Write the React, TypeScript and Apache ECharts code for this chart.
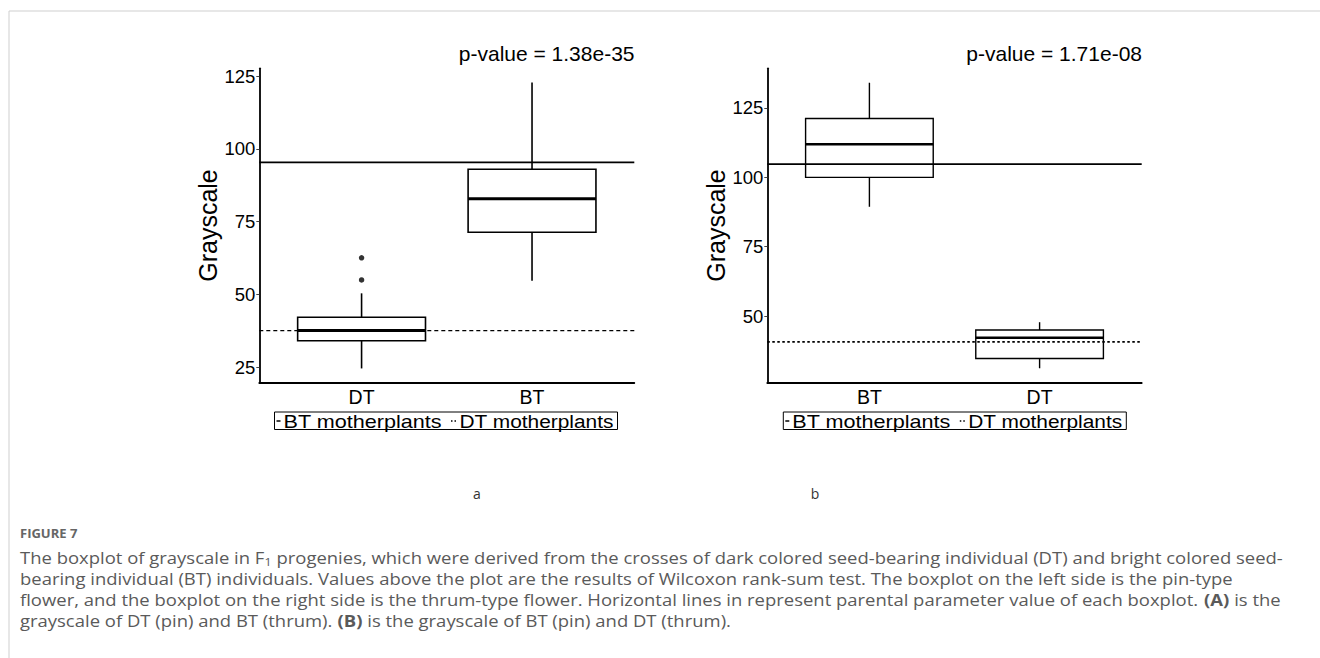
import React, { useEffect, useRef } from 'react';
import * as echarts from 'echarts';

// ---------- data ----------
const categoriesA = ['DT', 'BT'];
// [lower whisker, Q1, median, Q3, upper whisker]
const boxStatsA = [
  [24.6, 34.1, 37.6, 42.2, 50.4],
  [54.7, 71.4, 82.9, 93.0, 122.8],
];
const outlierCatsA = ['DT', 'DT'];
const outlierValsA = [62.6, 55.0];
const btMotherA = 95.4;
const dtMotherA = 37.6;
const pValueA = 'p-value = 1.38e-35';
const yTicksA = [25, 50, 75, 100, 125];
const yRangeA = [19.7, 127.7];

const categoriesB = ['BT', 'DT'];
const boxStatsB = [
  [89.4, 100.0, 111.9, 121.2, 134.1],
  [31.2, 34.7, 42.2, 45.0, 47.8],
];
const btMotherB = 104.8;
const dtMotherB = 40.7;
const pValueB = 'p-value = 1.71e-08';
const yTicksB = [50, 75, 100, 125];
const yRangeB = [26.0, 139.3];

const legendLabels = ['BT motherplants', 'DT motherplants'];
const panelLabels = ['a', 'b'];
const yName = 'Grayscale';

const captionHead = 'FIGURE 7';
const captionLines = [
  'The boxplot of grayscale in F{sub|1} progenies, which were derived from the crosses of dark colored seed-bearing individual (DT) and bright colored seed-',
  'bearing individual (BT) individuals. Values above the plot are the results of Wilcoxon rank-sum test. The boxplot on the left side is the pin-type',
  'flower, and the boxplot on the right side is the thrum-type flower. Horizontal lines in represent parental parameter value of each boxplot. {b|(A)} is the',
  'grayscale of DT (pin) and BT (thrum). {b|(B)} is the grayscale of BT (pin) and DT (thrum).',
];

// ---------- helpers ----------
const FONT = "'Liberation Sans', Arial, Helvetica, sans-serif";
const CAP_FONT = "'Open Sans', 'Noto Sans', sans-serif";

const toBoxData = (stats: number[][]) => stats.map((s, i) => [i + 1, ...s]);

const boxRenderer = (lw: number, medW: number) => (params: any, api: any) => {
  const x = api.value(0);
  const low = api.value(1), q1 = api.value(2), med = api.value(3), q3 = api.value(4), high = api.value(5);
  const half = 0.375;
  const tl = api.coord([x - half, q3]);
  const br = api.coord([x + half, q1]);
  const mL = api.coord([x - half, med]);
  const mR = api.coord([x + half, med]);
  const pH = api.coord([x, high]);
  const pT = api.coord([x, q3]);
  const pB = api.coord([x, q1]);
  const pL = api.coord([x, low]);
  const st = { stroke: '#000', lineWidth: lw, fill: 'none' };
  return {
    type: 'group',
    children: [
      { type: 'line', shape: { x1: pH[0], y1: pH[1], x2: pT[0], y2: pT[1] }, style: st },
      { type: 'line', shape: { x1: pB[0], y1: pB[1], x2: pL[0], y2: pL[1] }, style: st },
      {
        type: 'rect',
        shape: { x: tl[0], y: tl[1], width: br[0] - tl[0], height: br[1] - tl[1] },
        style: { stroke: '#000', lineWidth: lw, fill: '#fff' },
      },
      { type: 'line', shape: { x1: mL[0], y1: mL[1], x2: mR[0], y2: mR[1] }, style: { stroke: '#000', lineWidth: medW } },
    ],
  };
};

const legendGroup = (x0: number) => ({
  type: 'group',
  x: x0,
  y: 412,
  children: [
    { type: 'rect', shape: { x: 0, y: 0, width: 343, height: 17.5 }, style: { fill: '#fff', stroke: '#000', lineWidth: 1 } },
    { type: 'line', shape: { x1: 2, y1: 9, x2: 6, y2: 9 }, style: { stroke: '#000', lineWidth: 1.5 } },
    {
      type: 'text', x: 9, y: 9.5, scaleX: 1.2,
      style: { text: legendLabels[0], font: `18px ${FONT}`, fill: '#000', verticalAlign: 'middle', align: 'left' },
    },
    { type: 'line', shape: { x1: 176.5, y1: 9, x2: 182, y2: 9 }, style: { stroke: '#000', lineWidth: 1.5, lineDash: [1.5, 2] } },
    {
      type: 'text', x: 185, y: 9.5, scaleX: 1.16,
      style: { text: legendLabels[1], font: `18px ${FONT}`, fill: '#000', verticalAlign: 'middle', align: 'left' },
    },
  ],
});

export default function App() {
  const ref = useRef<HTMLDivElement>(null);
  useEffect(() => {
    if (!ref.current) return;
    const chart = echarts.init(ref.current, undefined, { renderer: 'svg' });

    const yAxisCommon = (ticks: number[], range: number[], gap: number) => ({
      type: 'value',
      min: range[0],
      max: range[1],
      name: yName,
      nameLocation: 'middle',
      nameGap: gap,
      nameTextStyle: { fontSize: 25, color: '#000', fontFamily: FONT },
      axisLine: { show: true, lineStyle: { color: '#000', width: 1.8 } },
      axisTick: { show: true, length: 3, customValues: ticks, lineStyle: { color: '#444', width: 1 } },
      axisLabel: { customValues: ticks, fontSize: 18.5, color: '#000', fontFamily: FONT, margin: 4 },
      splitLine: { show: false },
    });
    const xAxisCommon = (cats: string[], gridIndex: number) => ({
      type: 'value',
      gridIndex,
      min: 0.4,
      max: 2.6,
      axisLine: { show: true, onZero: false, lineStyle: { color: '#000', width: 1.8 } },
      axisTick: { show: false },
      axisLabel: {
        customValues: [1, 2],
        formatter: (v: number) => cats[Math.round(v) - 1] ?? '',
        fontSize: 19.5,
        color: '#000',
        fontFamily: FONT,
        margin: 4,
      },
      splitLine: { show: false },
    });

    const refLine = (val: number, xi: number, dash: any, w: number, name: string) => ({
      type: 'line',
      name,
      xAxisIndex: xi,
      yAxisIndex: xi,
      data: [[0.4, val], [2.6, val]],
      showSymbol: false,
      symbol: 'none',
      silent: true,
      z: 5,
      lineStyle: { color: '#000', width: w, type: dash },
    });

    const option: any = {
      animation: false,
      backgroundColor: '#fff',
      title: [
        {
          text: pValueA, right: 1320 - 634.5, top: 43, padding: 0,
          textStyle: { fontSize: 21, fontWeight: 'normal', color: '#000', fontFamily: FONT },
        },
        {
          text: pValueB, right: 1320 - 1142, top: 43, padding: 0,
          textStyle: { fontSize: 21, fontWeight: 'normal', color: '#000', fontFamily: FONT },
        },
      ],
      grid: [
        { left: 259.3, right: 1320 - 634.3, top: 68.3, bottom: 658 - 382.7 },
        { left: 767.3, right: 1320 - 1141.7, top: 68.3, bottom: 658 - 382.7 },
      ],
      xAxis: [xAxisCommon(categoriesA, 0), xAxisCommon(categoriesB, 1)],
      yAxis: [
        { ...yAxisCommon(yTicksA, yRangeA, 34), gridIndex: 0 },
        { ...yAxisCommon(yTicksB, yRangeB, 39), gridIndex: 1 },
      ],
      series: [
        {
          type: 'custom', name: 'boxA', xAxisIndex: 0, yAxisIndex: 0,
          renderItem: boxRenderer(1.6, 3),
          encode: { x: 0, y: [1, 2, 3, 4, 5] },
          data: toBoxData(boxStatsA), z: 2,
        },
        {
          type: 'scatter', name: 'outliersA', xAxisIndex: 0, yAxisIndex: 0,
          data: outlierCatsA.map((c, i) => [categoriesA.indexOf(c) + 1, outlierValsA[i]]),
          symbolSize: 5.5, itemStyle: { color: '#000' }, z: 3,
        },
        refLine(btMotherA, 0, 'solid', 1.7, legendLabels[0]),
        refLine(dtMotherA, 0, [4, 3], 1.4, legendLabels[1]),
        {
          type: 'custom', name: 'boxB', xAxisIndex: 1, yAxisIndex: 1,
          renderItem: boxRenderer(1.4, 2.5),
          encode: { x: 0, y: [1, 2, 3, 4, 5] },
          data: toBoxData(boxStatsB), z: 2,
        },
        refLine(btMotherB, 1, 'solid', 1.8, legendLabels[0]),
        refLine(dtMotherB, 1, [2.5, 2.5], 1.8, legendLabels[1]),
      ],
      graphic: [
        { type: 'line', shape: { x1: 9, y1: 11, x2: 1320, y2: 11 }, style: { stroke: '#cfcfcf', lineWidth: 1 }, silent: true },
        { type: 'line', shape: { x1: 9, y1: 11, x2: 9, y2: 658 }, style: { stroke: '#cfcfcf', lineWidth: 1 }, silent: true },
        legendGroup(274.5),
        legendGroup(783.3),
        {
          type: 'text', x: 477, y: 493,
          style: { text: panelLabels[0], font: `14px ${CAP_FONT}`, fill: '#333', align: 'center', verticalAlign: 'middle' },
        },
        {
          type: 'text', x: 815, y: 493,
          style: { text: panelLabels[1], font: `14px ${CAP_FONT}`, fill: '#333', align: 'center', verticalAlign: 'middle' },
        },
        {
          type: 'text', x: 20, y: 533,
          style: { text: captionHead, font: `bold 13px ${CAP_FONT}`, fill: '#666', align: 'left', verticalAlign: 'middle' },
        },
        ...captionLines.map((line, i) => ({
          type: 'text', x: 20, y: 557 + i * 21, scaleX: 1.12,
          style: {
            text: line,
            font: `16.5px ${CAP_FONT}`,
            fill: '#5a5a5a',
            align: 'left',
            verticalAlign: 'middle',
            lineHeight: 19,
            rich: {
              sub: { fontSize: 11, fontFamily: CAP_FONT, fill: '#5a5a5a', padding: [9, 0, 0, 0], lineHeight: 19 },
              b: { fontSize: 16.5, fontWeight: 'bold', fontFamily: CAP_FONT, fill: '#5a5a5a', lineHeight: 19 },
            },
          },
        })),
      ],
    };
    chart.setOption(option);
    return () => chart.dispose();
  }, []);
  return <div ref={ref} style={{ position: 'fixed', left: 0, top: 0, width: 1320, height: 658 }} />;
}
